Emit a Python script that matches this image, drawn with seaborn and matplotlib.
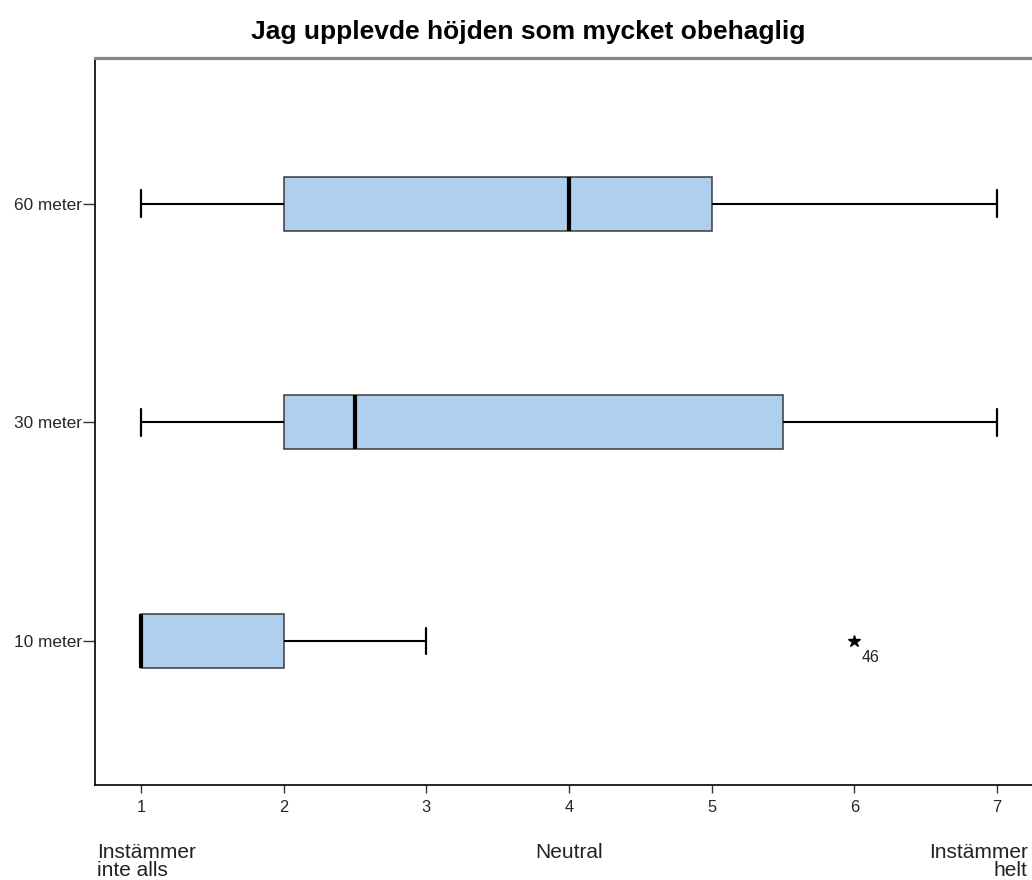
import matplotlib
matplotlib.use("Agg")
import matplotlib.pyplot as plt
import numpy as np
import pandas as pd
import seaborn as sns

# Svar på skalan 1-7 per höjd
groups = ["60 meter", "30 meter", "10 meter"]
svar_60 = [1, 2, 2, 3, 4, 5, 5, 6, 7]
svar_30 = [1, 2, 2, 2, 2, 3, 4, 6, 6, 7]
svar_10 = [1, 1, 1, 1, 1, 2, 2, 3, 6]
outlier_id = "46"

x_ticks = [1, 2, 3, 4, 5, 6, 7]
scale_labels = ["Instämmer\ninte alls", "Neutral", "Instämmer\nhelt"]
title = "Jag upplevde höjden som mycket obehaglig"

df = pd.DataFrame({
    "grupp": (["60 meter"] * len(svar_60) + ["30 meter"] * len(svar_30)
              + ["10 meter"] * len(svar_10)),
    "svar": svar_60 + svar_30 + svar_10,
})

sns.set_theme(style="white")
plt.rcParams["font.family"] = ["Liberation Sans", "DejaVu Sans"]

fig = plt.figure(figsize=(10.32, 8.8), dpi=100)
ax = fig.add_axes([95 / 1032, 1 - 785 / 880, 948 / 1032, 727 / 880])

sns.boxplot(
    data=df, x="svar", y="grupp", order=groups, orient="h", ax=ax,
    color="#AED0EE", saturation=1, width=0.247, whis=1.5,
    linecolor="#3a3a3a", linewidth=1.1,
    medianprops={"color": "black", "linewidth": 3},
    whiskerprops={"color": "black", "linewidth": 1.5},
    capprops={"color": "black", "linewidth": 1.6},
    flierprops={"marker": "*", "markerfacecolor": "black",
                "markeredgecolor": "black", "markersize": 9},
)

# etikett för extremvärdet
ax.annotate(outlier_id, xy=(max(svar_10), groups.index("10 meter")),
            xytext=(5, -12), textcoords="offset points",
            fontsize=11.5, ha="left", va="center", color="#222222")

ax.set_xlim(0.678, 7.322)
ax.set_ylim(2.659, -0.668)
ax.set_xticks(x_ticks)
ax.set_xlabel("")
ax.set_ylabel("")
ax.tick_params(axis="x", length=6, width=1, color="#333333", pad=5,
               labelsize=11.8, bottom=True)
ax.tick_params(axis="y", length=9, width=1, color="#333333", pad=0,
               labelsize=12.4, left=True)

for side in ["left", "bottom"]:
    ax.spines[side].set_color("black")
    ax.spines[side].set_linewidth(1.2)
ax.spines["top"].set_color("#888888")
ax.spines["top"].set_linewidth(2.3)
ax.spines["right"].set_visible(False)

# skaletiketter under axeln
ax.text(0.002, -0.08, scale_labels[0], transform=ax.transAxes, ha="left",
        va="top", fontsize=15, linespacing=0.95, color="#222222")
ax.text(4, -0.08, scale_labels[1], transform=ax.get_xaxis_transform(),
        ha="center", va="top", fontsize=15, color="#222222")
ax.text(0.984, -0.08, scale_labels[2], transform=ax.transAxes, ha="right",
        va="top", fontsize=15, linespacing=0.95, multialignment="right",
        color="#222222")

fig.text(0.512, 0.9636, title, ha="center", va="center", fontsize=19,
         fontweight="bold", color="black")

fig.savefig("out.png", dpi=100)
